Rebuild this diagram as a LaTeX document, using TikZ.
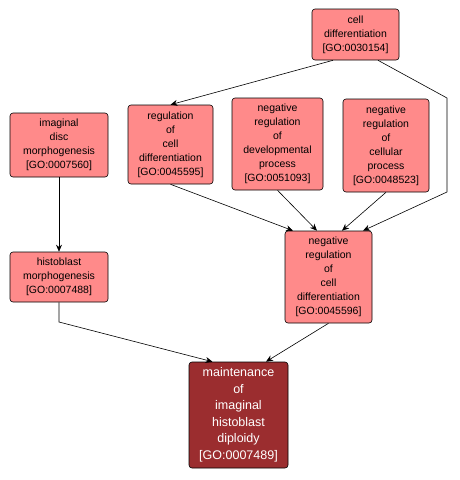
\documentclass[tikz,border=0pt]{standalone}
\usepackage{fontspec}
\setmainfont{Liberation Sans}
\usetikzlibrary{arrows.meta}
\definecolor{goterm}{HTML}{FF8A8A}
\definecolor{gofocus}{HTML}{9B2D2F}
\tikzset{
  term/.style={draw=black, fill=goterm, rounded corners=3pt, align=center, inner sep=0pt,
    font=\fontsize{10.5}{14}\selectfont},
  focus/.style={term, fill=gofocus, text=white, font=\fontsize{12.5}{16.5}\selectfont},
  isa/.style={-{Stealth[length=7pt,width=6pt]}, draw=black}
}
\begin{document}
\begin{tikzpicture}[x=1pt, y=-1pt, line width=0.6pt]
  \useasboundingbox (0,0) rectangle (459,480);
  % top row
  \node[term, minimum width=87pt, minimum height=51pt] (celldiff) at (355.5,34.5) {cell\\differentiation\\{[GO:0030154]}};
  \node[term, minimum width=85pt, minimum height=79pt] (regdiff) at (170.5,144.5) {regulation\\of\\cell\\differentiation\\{[GO:0045595]}};
  \node[term, minimum width=91pt, minimum height=92pt] (negdev) at (277.5,144) {negative\\regulation\\of\\developmental\\process\\{[GO:0051093]}};
  \node[term, minimum width=86pt, minimum height=93pt] (negcell) at (386,145.5) {negative\\regulation\\of\\cellular\\process\\{[GO:0048523]}};
  \node[term, minimum width=98pt, minimum height=64pt] (imdisc) at (59,145) {imaginal\\disc\\morphogenesis\\{[GO:0007560]}};
  % lower rows
  \node[term, minimum width=98pt, minimum height=50pt] (histo) at (59,277) {histoblast\\morphogenesis\\{[GO:0007488]}};
  \node[term, minimum width=87pt, minimum height=92pt] (negdiff) at (328.5,277) {negative\\regulation\\of\\cell\\differentiation\\{[GO:0045596]}};
  \node[focus, minimum width=99pt, minimum height=106pt] (maint) at (238.5,415) {maintenance\\of\\imaginal\\histoblast\\diploidy\\{[GO:0007489]}};
  % bends of the routed edges
  \coordinate (bendA) at (447,98); \coordinate (bendB) at (447,192); \coordinate (bendC) at (59,322);
  \draw[isa] ([xshift=-22.5pt]celldiff.south) -- (regdiff.north);
  \draw[isa] ([xshift=22.5pt]celldiff.south) -- (bendA) -- (bendB) -- ([xshift=34.5pt]negdiff.north);
  \draw[isa] (regdiff.south) -- ([xshift=-35.5pt]negdiff.north);
  \draw[isa] (negdev.south) -- ([xshift=-11.5pt]negdiff.north);
  \draw[isa] (negcell.south) -- ([xshift=13.5pt]negdiff.north);
  \draw[isa] (imdisc.south) -- (histo.north);
  \draw[isa] (histo.south) -- (bendC) -- ([xshift=-26pt]maint.north);
  \draw[isa] (negdiff.south) -- ([xshift=27.5pt]maint.north);
\end{tikzpicture}
\end{document}
